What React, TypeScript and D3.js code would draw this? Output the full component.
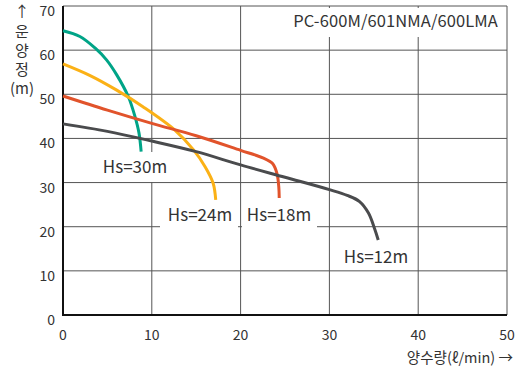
import React from "react";
import * as d3 from "d3";

const xTicks = [0, 10, 20, 30, 40, 50];
const yTicks = [0, 10, 20, 30, 40, 50, 60, 70];

const tealX = [0, 1.9, 3.6, 4.9, 6.05, 7.35, 8.1, 8.56, 8.8];
const tealY = [64.4, 63.1, 60.5, 57.8, 54.4, 49.5, 45, 41.2, 37];
const yellowX = [0, 3, 6, 9, 12.6, 14.7, 16, 16.9, 17.2];
const yellowY = [56.9, 54.3, 51, 47.2, 41.9, 37.4, 33.6, 29.9, 26.1];
const redX = [0, 5, 10, 15, 20, 22.5, 23.6, 24.1, 24.3, 24.35];
const redY = [49.6, 46.4, 43.4, 40.6, 37.3, 35.6, 34.3, 32, 29, 26.5];
const grayX = [0, 5, 10, 15, 20, 25, 30, 32, 33.4, 34.4, 35.1, 35.5];
const grayY = [43.3, 41.6, 39.4, 37, 34, 31.2, 28.4, 27.1, 25.7, 23.1, 19.5, 17];

const seriesNames = ["Hs=30m", "Hs=24m", "Hs=18m", "Hs=12m"];
const title = "PC-600M/601NMA/600LMA";
const yAxisChars = ["↑", "운", "양", "정", "(m)"];
const xAxisTitle = "양수량(ℓ/min) →";

const FONT = "'Noto Sans CJK KR', 'Noto Sans', sans-serif";

export default function App() {
  const x = d3.scaleLinear().domain([0, 50]).range([63, 507]);
  const y = d3.scaleLinear().domain([0, 70]).range([315, 6]);
  const line = d3
    .line<[number, number]>()
    .x((d) => x(d[0]))
    .y((d) => y(d[1]))
    .curve(d3.curveCatmullRom.alpha(0.5));

  const series = [
    { xs: tealX, ys: tealY, color: "#00a487" },
    { xs: yellowX, ys: yellowY, color: "#fbb116" },
    { xs: redX, ys: redY, color: "#e1532b" },
    { xs: grayX, ys: grayY, color: "#4a4b4d" },
  ];

  const labels = [
    { text: seriesNames[0], cx: 135, cy: 165, bx: 100, bw: 70, by: 152, bh: 30 },
    { text: seriesNames[1], cx: 200, cy: 213, bx: 160, bw: 78, by: 198, bh: 30 },
    { text: seriesNames[2], cx: 279, cy: 213, bx: 242, bw: 75, by: 198, bh: 30 },
    { text: seriesNames[3], cx: 376, cy: 255, bx: 338, bw: 76, by: 241, bh: 27 },
  ];

  const yCharPos = [10, 30, 49, 68, 87];

  return (
    <svg
      width={520}
      height={369}
      style={{ position: "absolute", left: 0, top: 0, background: "#fff" }}
      fontFamily={FONT}
    >
      {/* grid */}
      {xTicks.map((t) => (
        <line key={"gx" + t} x1={x(t)} x2={x(t)} y1={y(0)} y2={y(70)} stroke="#555" strokeWidth={1} />
      ))}
      {yTicks.map((t) => (
        <line key={"gy" + t} x1={x(0)} x2={x(50)} y1={y(t)} y2={y(t)} stroke="#555" strokeWidth={1} />
      ))}
      {/* title box */}
      <rect x={270} y={8} width={236} height={29} fill="#fff" />
      <text x={498} y={27} textAnchor="end" fontSize={16.5} letterSpacing={0.1} fill="#333">
        {title}
      </text>
      {/* label boxes */}
      {labels.map((l) => (
        <rect key={"b" + l.text} x={l.bx} y={l.by} width={l.bw} height={l.bh} fill="#fff" />
      ))}
      {/* axes */}
      <line x1={x(0)} x2={x(0)} y1={y(0) + 1} y2={y(70)} stroke="#111" strokeWidth={2} />
      <line x1={x(0) - 1} x2={x(50)} y1={y(0)} y2={y(0)} stroke="#111" strokeWidth={2} />
      {/* curves */}
      {series.map((s, i) => (
        <path
          key={"s" + i}
          d={line(s.xs.map((v, j) => [v, s.ys[j]] as [number, number])) || ""}
          fill="none"
          stroke={s.color}
          strokeWidth={3}
          strokeLinecap="butt"
        />
      ))}
      {/* labels */}
      {labels.map((l) => (
        <text key={"t" + l.text} x={l.cx} y={l.cy} textAnchor="middle" dominantBaseline="central" fontSize={17} fill="#333">
          {l.text}
        </text>
      ))}
      {/* tick labels */}
      {yTicks.map((t) => (
        <text key={"yt" + t} x={55} y={y(t) + 4} textAnchor="end" dominantBaseline="central" fontSize={14} fill="#333">
          {t}
        </text>
      ))}
      {xTicks.map((t) => (
        <text key={"xt" + t} x={x(t)} y={334} textAnchor="middle" dominantBaseline="central" fontSize={14} fill="#333">
          {t}
        </text>
      ))}
      {/* y axis title */}
      {yAxisChars.map((c, i) => (
        <text key={"yc" + i} x={22} y={yCharPos[i]} textAnchor="middle" dominantBaseline="central" fontSize={15} fill="#333">
          {c}
        </text>
      ))}
      <text x={513} y={356} textAnchor="end" dominantBaseline="central" fontSize={14.5} fill="#333">
        {xAxisTitle}
      </text>
    </svg>
  );
}
